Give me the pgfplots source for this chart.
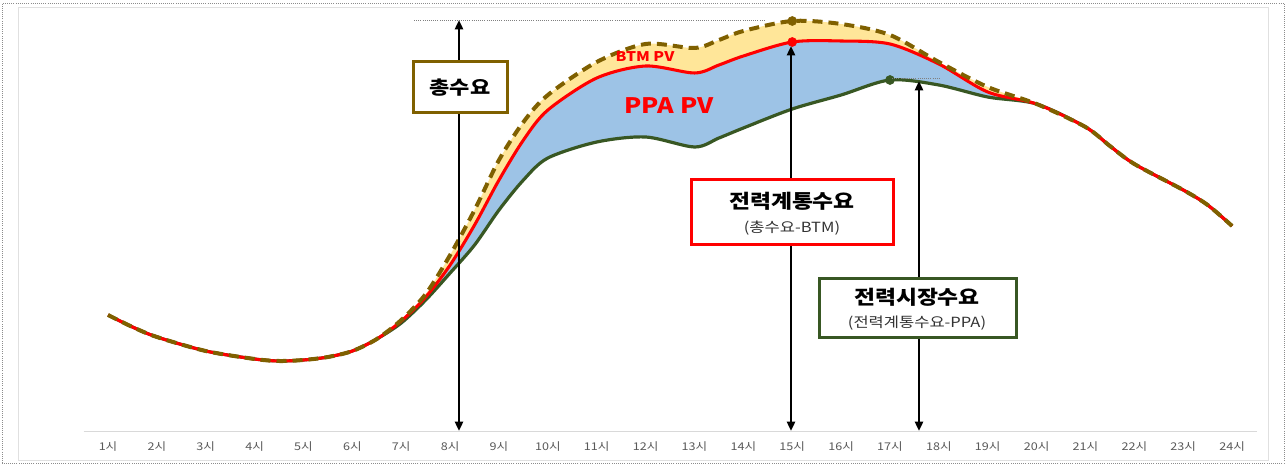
\documentclass[border=0pt]{standalone}
\usepackage{pgfplots}
\pgfplotsset{compat=1.18}
\usepackage{pgfplotstable}
\usepgfplotslibrary{fillbetween}
\usetikzlibrary{arrows.meta}
\usepackage{fontspec}
\setmainfont{Noto Sans CJK KR}[FakeStretch=1.18]

\definecolor{olivedem}{HTML}{7F6000}
\definecolor{reddem}{HTML}{FF0000}
\definecolor{greendem}{HTML}{385723}
\definecolor{btmfill}{HTML}{FFE699}
\definecolor{ppafill}{HTML}{9DC3E6}
\definecolor{ticktext}{HTML}{595959}

% hour, total demand, grid demand (total - BTM), market demand (grid - PPA)
\pgfplotstableread{
h    total grid market
1    117   117  117
1.5  105   105  105
2    95    95   95
3    81    81   81
4    73    73   73
4.5  71    71   71
5    72    72   72
5.5  75    75   75
6    81    81   81
6.5  93    93   93
7    112   111  109
7.5  138   135  132
8    177   167  159
8.5  222   207  187
9    272   252  222
9.5  310   292  252
10   337   322  274
11   370   354  290
12   388   366  295
13   384   359  285
13.5 392   367  294
14   401   376  304
15   411   390  323
16   408   391  337
17   397   388  352
18   370   368  347
19   345   340  335
20   328   328  328
21   305   305  305
21.5 286   286  286
22   268   268  268
23   242   242  242
23.5 227   227  227
24   206   206  206
}\demand

\begin{document}
\begin{tikzpicture}
\begin{axis}[
  at={(62.7pt,24pt)}, anchor=south west,
  scale only axis, width=879.7pt, height=316.5pt,
  xmin=0.5, xmax=24.5, ymin=0, ymax=422,
  axis x line=bottom, axis y line=none,
  x axis line style={draw=black!15, line width=0.75pt, -},
  xtick={1,...,24},
  xticklabels={1시,2시,3시,4시,5시,6시,7시,8시,9시,10시,11시,12시,13시,14시,15시,16시,17시,18시,19시,20시,21시,22시,23시,24시},
  major tick length=0pt,
  xticklabel style={font=\fontsize{8}{9}\selectfont, text=ticktext, anchor=center, yshift=-11.25pt},
  clip=false,
]
\addplot[draw=none, name path=T, smooth] table[x=h, y=total] {\demand};
\addplot[draw=none, name path=G, smooth] table[x=h, y=grid] {\demand};
\addplot[draw=none, name path=M, smooth] table[x=h, y=market] {\demand};
\addplot[btmfill] fill between[of=T and G];
\addplot[ppafill] fill between[of=G and M];

\addplot[greendem, line width=2.4pt, smooth] table[x=h, y=market] {\demand};
\addplot[reddem, line width=2.3pt, smooth] table[x=h, y=grid] {\demand};
\addplot[olivedem, line width=3pt, smooth, dash pattern=on 7.5pt off 4.5pt] table[x=h, y=total] {\demand};

\addplot[only marks, mark=*, mark size=3.4pt, olivedem] coordinates {(15,411)};
\addplot[only marks, mark=*, mark size=3.4pt, reddem] coordinates {(15,390)};
\addplot[only marks, mark=*, mark size=3.4pt, greendem] coordinates {(17,352)};
\end{axis}

\begin{scope}[x=0.75pt, y=0.75pt]
% frames
\draw[black!45, densely dotted, line width=0.6pt] (2,1) rectangle (1284,461);
\draw[black!12, line width=0.75pt] (18,3) rectangle (1268,456);

% guide lines
\draw[black!50, densely dotted, line width=0.6pt] (414,444) -- (765,444);
\draw[black!50, densely dotted, line width=0.6pt] (892,386) -- (940,386);

% arrows
\draw[line width=1.8pt, {Triangle[length=7pt,width=6pt]}-{Triangle[length=7pt,width=6pt]}] (459,444) -- (459,33);
\draw[line width=1.8pt, {Triangle[length=7pt,width=6pt]}-{Triangle[length=7pt,width=6pt]}] (791,418) -- (791,33);
\draw[line width=1.8pt, {Triangle[length=7pt,width=6pt]}-{Triangle[length=7pt,width=6pt]}] (919,383) -- (919,33);

% boxes
\draw[olivedem, line width=2.25pt, fill=white] (413,402) rectangle (507,351);
\node[font=\bfseries\fontsize{14}{16}\selectfont] at (460,376) {총수요};

\draw[reddem, line width=2.25pt, fill=white] (691,284) rectangle (893,219);
\node[font=\bfseries\fontsize{14.5}{16}\selectfont] at (792,263) {전력계통수요};
\node[font=\fontsize{10.5}{12}\selectfont, text=black!80] at (792,236) {(총수요-BTM)};

\draw[greendem, line width=2.25pt, fill=white] (819,185) rectangle (1016,126);
\node[font=\bfseries\fontsize{14.5}{16}\selectfont] at (917,167) {전력시장수요};
\node[font=\fontsize{10.5}{12}\selectfont, text=black!80] at (917,141) {(전력계통수요-PPA)};

% area labels
\node[font=\bfseries\fontsize{10}{12}\selectfont, text=reddem] at (645,407) {BTM PV};
\node[font=\bfseries\fontsize{16}{18}\selectfont, text=reddem] at (669,358) {PPA PV};

\pgfresetboundingbox
\useasboundingbox (0,0) rectangle (1286,464);
\end{scope}
\end{tikzpicture}
\end{document}
